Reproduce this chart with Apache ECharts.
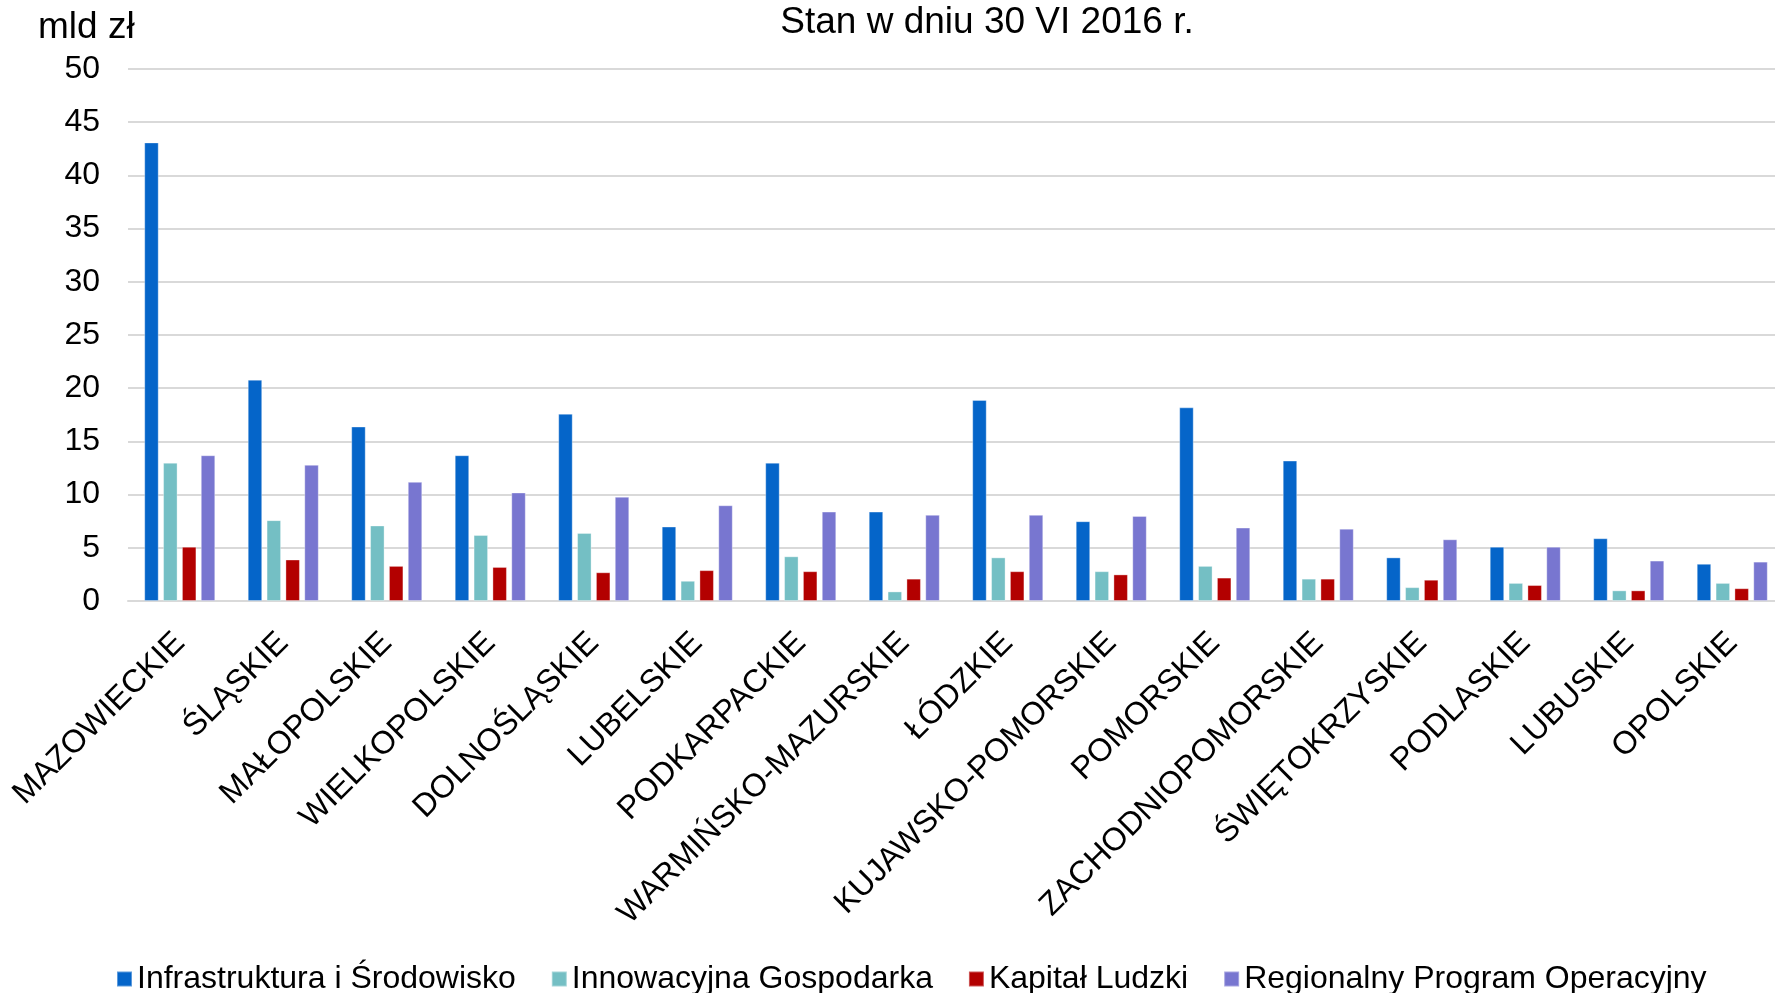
<!DOCTYPE html>
<html>
<head>
<meta charset="utf-8">
<script src="https://cdn.jsdelivr.net/npm/echarts@6/dist/echarts.min.js"></script>
<style>
  html, body { margin: 0; padding: 0; background: #fff; }
  #chart { width: 1775px; height: 993px; }
</style>
</head>
<body>
<div id="chart"></div>
<script>
const regions = [
  "MAZOWIECKIE", "ŚLĄSKIE", "MAŁOPOLSKIE", "WIELKOPOLSKIE", "DOLNOŚLĄSKIE",
  "LUBELSKIE", "PODKARPACKIE", "WARMIŃSKO-MAZURSKIE", "ŁÓDZKIE",
  "KUJAWSKO-POMORSKIE", "POMORSKIE", "ZACHODNIOPOMORSKIE", "ŚWIĘTOKRZYSKIE",
  "PODLASKIE", "LUBUSKIE", "OPOLSKIE"
];
const seriesNames = [
  "Infrastruktura i Środowisko", "Innowacyjna Gospodarka",
  "Kapitał Ludzki", "Regionalny Program Operacyjny"
];
const infrastruktura = [43.1, 20.8, 16.4, 13.7, 17.6, 7.0, 13.0, 8.4, 18.9, 7.5, 18.2, 13.2, 4.1, 5.1, 5.9, 3.5];
const innowacyjna = [13.0, 7.6, 7.1, 6.2, 6.4, 1.9, 4.2, 0.9, 4.1, 2.8, 3.3, 2.1, 1.3, 1.7, 1.0, 1.7];
const kapital = [5.1, 3.9, 3.3, 3.2, 2.7, 2.9, 2.8, 2.1, 2.8, 2.5, 2.2, 2.1, 2.0, 1.5, 1.0, 1.2];
const rpo = [13.7, 12.8, 11.2, 10.2, 9.8, 9.0, 8.4, 8.1, 8.1, 8.0, 6.9, 6.8, 5.8, 5.1, 3.8, 3.7];
const yTicks = [0, 50, 5];

const colors = ["#0565C9", "#74BFC4", "#B30000", "#7876D0"];
const font = "'Liberation Sans', Arial, sans-serif";

const chart = echarts.init(document.getElementById("chart"));

function bar(name, data, color) {
  return {
    type: "bar",
    name: name,
    data: data,
    barWidth: 14.5,
    barGap: "30%",
    itemStyle: { color: color, borderColor: "rgba(255,255,255,0.35)", borderWidth: 1 }
  };
}

chart.setOption({
  animation: false,
  backgroundColor: "#fff",
  textStyle: { fontFamily: font, color: "#000" },
  title: [
    {
      text: "Stan w dniu 30 VI 2016 r.",
      left: 987, top: 4, padding: 0, textAlign: "center",
      textStyle: { fontFamily: font, fontSize: 37, fontWeight: "normal", color: "#000" }
    },
    {
      text: "mld zł",
      left: 38, top: 9, padding: 0,
      textStyle: { fontFamily: font, fontSize: 37, fontWeight: "normal", color: "#000" }
    }
  ],
  legend: {
    left: 111, top: 958,
    itemWidth: 15, itemHeight: 15, itemGap: 35,
    icon: "rect",
    textStyle: { fontFamily: font, fontSize: 32, color: "#000" },
    data: seriesNames
  },
  grid: {
    left: 128, width: 1656, top: 69, height: 532,
    outerBoundsMode: "none"
  },
  xAxis: {
    type: "category",
    data: regions,
    axisLine: { lineStyle: { color: "#d9d9d9", width: 2 } },
    axisTick: { show: false },
    axisLabel: {
      interval: 0, rotate: 45, margin: 37,
      fontFamily: font, fontSize: 32, color: "#000"
    }
  },
  yAxis: {
    type: "value",
    min: yTicks[0], max: yTicks[1], interval: yTicks[2],
    axisLine: { show: false },
    axisTick: { show: false },
    axisLabel: { margin: 28, fontFamily: font, fontSize: 32, color: "#000" },
    splitLine: { lineStyle: { color: "#d9d9d9", width: 2 } }
  },
  series: [
    bar(seriesNames[0], infrastruktura, colors[0]),
    bar(seriesNames[1], innowacyjna, colors[1]),
    bar(seriesNames[2], kapital, colors[2]),
    bar(seriesNames[3], rpo, colors[3])
  ]
});
</script>
</body>
</html>
